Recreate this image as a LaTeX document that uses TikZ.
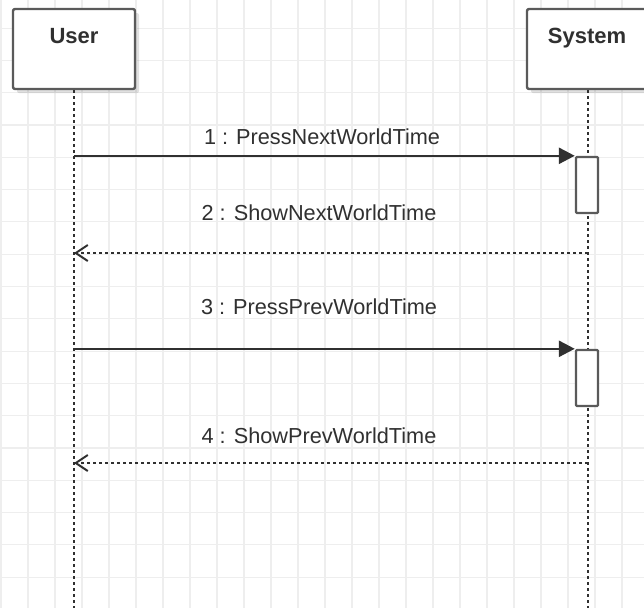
\documentclass[tikz,border=0pt]{standalone}
\usepackage{fontspec}
\setmainfont{Liberation Sans}
\usepackage{xcolor}
\usepackage{tikz}
\usetikzlibrary{arrows.meta,shadows}
\definecolor{gridgray}{HTML}{EEEEEE}
\definecolor{inkgray}{HTML}{303030}
\definecolor{boxgray}{HTML}{5A5A5A}

\begin{document}
\begin{tikzpicture}[x=1pt,y=-1pt,line join=round,
  actor/.style={draw=boxgray,line width=2.4pt,fill=white,rounded corners=2pt,
    minimum width=122pt,minimum height=80pt,inner sep=0pt,
    drop shadow={shadow xshift=4pt,shadow yshift=-4pt,opacity=0.12,fill=black}},
  actorname/.style={font=\fontsize{22}{26}\selectfont\bfseries,text=inkgray,inner sep=0pt,anchor=base},
  lifeline/.style={draw=inkgray,line width=2pt,dash pattern=on 3pt off 3pt},
  activation/.style={draw=boxgray,line width=2.4pt,fill=white,rounded corners=1pt,
    minimum width=22pt,minimum height=56pt,inner sep=0pt},
  call/.style={draw=inkgray,line width=2.6pt,-{Triangle[length=16pt,width=16pt]}},
  reply/.style={draw=inkgray,line width=2pt,dash pattern=on 3pt off 3pt,
    -{Straight Barb[length=12pt,width=16pt,line width=2pt]}},
  msglabel/.style={font=\fontsize{21.7}{26}\selectfont,text=inkgray,inner sep=0pt}]
  \clip (0,0) rectangle (644,608);
  \fill[white] (0,0) rectangle (644,608);
  \foreach \gx in {1,28,...,644}
    \draw[gridgray,line width=1.1pt] (\gx,0) -- (\gx,608);
  \foreach \k in {0,...,19}{
    \pgfmathsetmacro\gy{32.3*\k-4.2}
    \draw[gridgray,line width=1.1pt] (0,\gy) -- (644,\gy);
  }

  \node[actor] (user) at (74,49) {};
  \node[actor] (sys) at (588,49) {};
  \node[actorname] (username) at (74,43) {User};
  \node[actorname] (sysname) at (587,43) {System};

  \coordinate (userend) at (user.south |- 0,608);
  \coordinate (sysend) at (sys.south |- 0,608);
  \draw[lifeline] (user.south) -- (userend);
  \draw[lifeline] (sys.south) -- (sysend);

  \node[activation] (act1) at (587,185) {};
  \node[activation] (act2) at (587,378) {};

  \coordinate (m1) at (user.south |- act1.north);
  \coordinate (m3) at (user.south |- act2.north);
  \coordinate (r2s) at (sys.south |- 0,253);
  \coordinate (r2e) at (user.south |- 0,253);
  \coordinate (r4s) at (sys.south |- 0,463);
  \coordinate (r4e) at (user.south |- 0,463);

  \draw[call] (m1) -- (act1.north west);
  \draw[reply] (r2s) -- (r2e);
  \draw[call] (m3) -- (act2.north west);
  \draw[reply] (r4s) -- (r4e);

  \node[msglabel] (lab1) at (322,137) {1 : PressNextWorldTime};
  \node[msglabel] (lab2) at (319,213) {2 : ShowNextWorldTime};
  \node[msglabel] (lab3) at (319,307) {3 : PressPrevWorldTime};
  \node[msglabel] (lab4) at (319,436) {4 : ShowPrevWorldTime};
\end{tikzpicture}
\end{document}
